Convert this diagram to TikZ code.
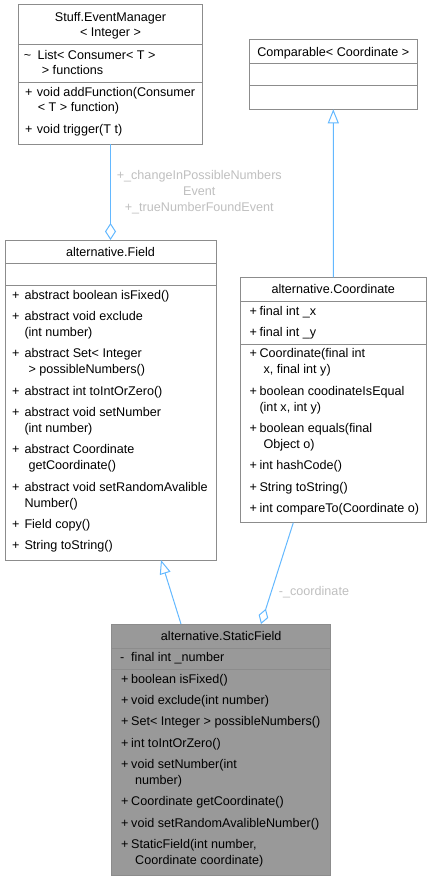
\documentclass[tikz,border=0pt]{standalone}
\usepackage{fontspec}
\setmainfont{Liberation Sans}
\usetikzlibrary{arrows.meta}
\definecolor{edgeblue}{HTML}{63B8FF}
\definecolor{bordgray}{HTML}{8C8C8C}
\definecolor{labgray}{HTML}{BFBFBF}
\definecolor{sffill}{HTML}{999999}
\begin{document}
\begin{tikzpicture}[x=1pt,y=-1pt,
  umlbox/.style={draw=bordgray, line width=1pt, rectangle, inner sep=0pt, outer sep=0pt, anchor=north west},
  sepline/.style={draw=bordgray, line width=1pt},
  txt/.style={anchor=west, inner sep=0pt, font=\fontsize{12.6}{15}\selectfont, text height=9pt, text depth=3pt},
  ttl/.style={anchor=center, inner sep=0pt, font=\fontsize{12.6}{15}\selectfont, text height=9pt, text depth=3pt},
  elabel/.style={anchor=center, inner sep=0pt, text=labgray, font=\fontsize{12.6}{15}\selectfont, text height=9pt, text depth=3pt},
  edgeline/.style={draw=edgeblue, line width=1pt},
  aggr/.style={edgeline, -{Diamond[open, length=17pt, width=11pt]}},
  inher/.style={edgeline, -{Triangle[open, length=14pt, width=11pt]}}
]
\useasboundingbox (0,0) rectangle (432,880);

% ---------- boxes ----------
\node[umlbox, fill=white, minimum width=184.4pt, minimum height=139pt] (em) at (18.3,5) {};
\node[umlbox, fill=white, minimum width=168pt, minimum height=69.3pt] (cmp) at (249.3,40) {};
\node[umlbox, fill=white, minimum width=211pt, minimum height=320pt] (field) at (5,240) {};
\node[umlbox, fill=white, minimum width=186.7pt, minimum height=245.4pt] (coord) at (240,277.3) {};
\node[umlbox, fill=sffill, minimum width=219pt, minimum height=251pt] (sf) at (111.7,624) {};

% separators
\draw[sepline] (em.west |- 0,45) -- (em.east |- 0,45);
\draw[sepline] (em.west |- 0,82.3) -- (em.east |- 0,82.3);
\draw[sepline] (cmp.west |- 0,64) -- (cmp.east |- 0,64);
\draw[sepline] (cmp.west |- 0,85.3) -- (cmp.east |- 0,85.3);
\draw[sepline] (field.west |- 0,263.3) -- (field.east |- 0,263.3);
\draw[sepline] (field.west |- 0,285.3) -- (field.east |- 0,285.3);
\draw[sepline] (coord.west |- 0,301) -- (coord.east |- 0,301);
\draw[sepline] (coord.west |- 0,344) -- (coord.east |- 0,344);
\draw[sepline] (sf.west |- 0,648.3) -- (sf.east |- 0,648.3);
\draw[sepline] (sf.west |- 0,669.3) -- (sf.east |- 0,669.3);

% ---------- EventManager ----------
\node[ttl] (emt1) at (110.5,18.3) {Stuff.EventManager};
\node[ttl] (emt2) at (110.5,34) {< Integer >};
\node[txt] (ema1s) at (23.7,56.7) {\textasciitilde};
\node[txt] (ema1) at (37.3,56.7) {List< Consumer< T >};
\node[txt] (ema2) at (41.7,72) {> functions};
\node[txt] (emm1s) at (25,94) {+};
\node[txt] (emm1) at (36.7,94) {void addFunction(Consumer};
\node[txt] (emm2) at (37.7,109) {< T > function)};
\node[txt] (emm3s) at (25,130.7) {+};
\node[txt] (emm3) at (36.7,130.7) {void trigger(T t)};

% ---------- Comparable ----------
\node[ttl] (cmpt) at (333.3,53.3) {Comparable< Coordinate >};

% ---------- Field ----------
\node[ttl] (ft) at (110.5,253.3) {alternative.Field};
\node[txt] (f1s) at (12,296.7) {+};
\node[txt] (f1) at (24.3,296.7) {abstract boolean isFixed()};
\node[txt] (f2s) at (12,317.3) {+};
\node[txt] (f2) at (24.3,317.3) {abstract void exclude};
\node[txt] (f2b) at (24.3,333.3) {(int number)};
\node[txt] (f3s) at (12,354.3) {+};
\node[txt] (f3) at (24.3,354.3) {abstract Set< Integer};
\node[txt] (f3b) at (28.3,370.3) {> possibleNumbers()};
\node[txt] (f4s) at (12,392.7) {+};
\node[txt] (f4) at (24.3,392.7) {abstract int toIntOrZero()};
\node[txt] (f5s) at (12,413.3) {+};
\node[txt] (f5) at (24.3,413.3) {abstract void setNumber};
\node[txt] (f5b) at (24.3,429.3) {(int number)};
\node[txt] (f6s) at (12,450.7) {+};
\node[txt] (f6) at (24.3,450.7) {abstract Coordinate};
\node[txt] (f6b) at (28.3,466.7) {getCoordinate()};
\node[txt] (f7s) at (12,488.3) {+};
\node[txt] (f7) at (24.3,488.3) {abstract void setRandomAvalible};
\node[txt] (f7b) at (24.3,504.3) {Number()};
\node[txt] (f8s) at (12,525.7) {+};
\node[txt] (f8) at (24.3,525.7) {Field copy()};
\node[txt] (f9s) at (12,546.7) {+};
\node[txt] (f9) at (24.3,546.7) {String toString()};

% ---------- Coordinate ----------
\node[ttl] (ct) at (333.3,290.3) {alternative.Coordinate};
\node[txt] (c1s) at (249.3,312.3) {+};
\node[txt] (c1) at (259.3,312.3) {final int \_x};
\node[txt] (c2s) at (249.3,333.3) {+};
\node[txt] (c2) at (259.3,333.3) {final int \_y};
\node[txt] (c3s) at (249.3,354.3) {+};
\node[txt] (c3) at (259.3,354.3) {Coordinate(final int};
\node[txt] (c3b) at (263.3,370.3) {x, final int y)};
\node[txt] (c4s) at (249.3,392.7) {+};
\node[txt] (c4) at (259.3,392.7) {boolean coodinateIsEqual};
\node[txt] (c4b) at (259.3,408.7) {(int x, int y)};
\node[txt] (c5s) at (249.3,429.3) {+};
\node[txt] (c5) at (259.3,429.3) {boolean equals(final};
\node[txt] (c5b) at (263.3,445.3) {Object o)};
\node[txt] (c6s) at (249.3,466.7) {+};
\node[txt] (c6) at (259.3,466.7) {int hashCode()};
\node[txt] (c7s) at (249.3,488.3) {+};
\node[txt] (c7) at (259.3,488.3) {String toString()};
\node[txt] (c8s) at (249.3,509.3) {+};
\node[txt] (c8) at (259.3,509.3) {int compareTo(Coordinate o)};

% ---------- StaticField ----------
\node[ttl] (st) at (221.2,637.3) {alternative.StaticField};
\node[txt] (sa1s) at (120,658.7) {-};
\node[txt] (sa1) at (131,658.7) {final int \_number};
\node[txt] (s1s) at (121,680) {+};
\node[txt] (s1) at (131,680) {boolean isFixed()};
\node[txt] (s2s) at (121,701.7) {+};
\node[txt] (s2) at (131,701.7) {void exclude(int number)};
\node[txt] (s3s) at (121,722.7) {+};
\node[txt] (s3) at (131,722.7) {Set< Integer > possibleNumbers()};
\node[txt] (s4s) at (121,744.3) {+};
\node[txt] (s4) at (131,744.3) {int toIntOrZero()};
\node[txt] (s5s) at (121,765.7) {+};
\node[txt] (s5) at (131,765.7) {void setNumber(int};
\node[txt] (s5b) at (135,781) {number)};
\node[txt] (s6s) at (121,802.3) {+};
\node[txt] (s6) at (131,802.3) {Coordinate getCoordinate()};
\node[txt] (s7s) at (121,824.3) {+};
\node[txt] (s7) at (131,824.3) {void setRandomAvalibleNumber()};
\node[txt] (s8s) at (121,845.7) {+};
\node[txt] (s8) at (131,845.7) {StaticField(int number,};
\node[txt] (s8b) at (135,861.7) {Coordinate coordinate)};

% ---------- connectors ----------
\draw[aggr] (em.south) -- (field.north);
\node[elabel] (l1) at (199.3,176.7) {+\_changeInPossibleNumbers};
\node[elabel] (l2) at (199.3,192.3) {Event};
\node[elabel] (l3) at (199.3,208.3) {+\_trueNumberFoundEvent};

\draw[inher] (coord.north) -- (cmp.south);

\draw[inher] ([xshift=69.3pt]sf.north west) -- ([xshift=156pt]field.south west);

\draw[edgeline, -{Diamond[open, length=16pt, width=10pt]}] ([xshift=53.3pt]coord.south west) -- ([xshift=149.3pt]sf.north west);
\node[elabel] (l4) at (314,592.3) {-\_coordinate};
\end{tikzpicture}
\end{document}
